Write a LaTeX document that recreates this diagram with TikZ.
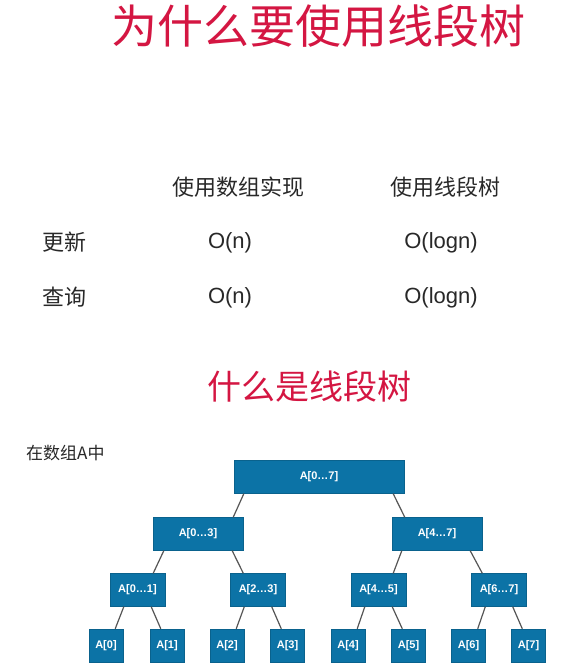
\documentclass[tikz,border=0pt]{standalone}
\usepackage{fontspec}
\setmainfont{Liberation Sans}
\newfontfamily\cjk{Noto Sans CJK SC}
\definecolor{titlered}{RGB}{212,22,66}
\definecolor{segblue}{RGB}{12,115,166}
\definecolor{textgray}{RGB}{40,40,40}
\definecolor{linegray}{RGB}{85,85,85}

\begin{document}
\begin{tikzpicture}[
    x=1pt, y=-1pt,
    title/.style={text=titlered, font=\cjk\fontsize{46}{46}\selectfont, inner sep=0pt},
    subtitle/.style={text=titlered, font=\cjk\fontsize{34}{34}\selectfont, inner sep=0pt},
    head/.style={text=textgray, font=\cjk\fontsize{22}{22}\selectfont, inner sep=0pt},
    cell/.style={text=textgray, font=\fontsize{22}{22}\selectfont, inner sep=0pt},
    seg/.style={rectangle, draw=segblue!85!black, fill=segblue, text=white, font=\bfseries\fontsize{11}{11}\selectfont, minimum height=33pt, inner sep=0pt},
    line/.style={draw, linegray, line width=1.2pt}
]
\fill[white] (0,0) rectangle (566,671);
\useasboundingbox (0,0) rectangle (566,671);

\node [title] (why) at (318,26) {为什么要使用线段树};

\node [head] (harr) at (238,187) {使用数组实现};
\node [head] (hseg) at (445,187) {使用线段树};
\node [head] (upd) at (64,242) {更新};
\node [head] (qry) at (64,297) {查询};
\node [cell] (updarr) at (230,243) {O(n)};
\node [cell] (updseg) at (441,243) {O(logn)};
\node [cell] (qryarr) at (230,298) {O(n)};
\node [cell] (qryseg) at (441,298) {O(logn)};

\node [subtitle] (what) at (309,387) {什么是线段树};
\node [text=textgray, font=\cjk\fontsize{17}{17}\selectfont, inner sep=0pt, anchor=west] (inarr) at (26,453) {在数组A中};

\node [seg, minimum width=170pt] (root) at (319,477) {A[0…7]};
\node [seg, minimum width=90pt] (a03) at (198,534) {A[0…3]};
\node [seg, minimum width=90pt] (a47) at (437,534) {A[4…7]};
\node [seg, minimum width=55pt] (a01) at (137.5,590) {A[0…1]};
\node [seg, minimum width=55pt] (a23) at (258,590) {A[2…3]};
\node [seg, minimum width=55pt] (a45) at (378.5,590) {A[4…5]};
\node [seg, minimum width=55pt] (a67) at (499,590) {A[6…7]};
\node [seg, minimum width=34pt] (a0) at (106,645.5) {A[0]};
\node [seg, minimum width=34pt] (a1) at (167,645.5) {A[1]};
\node [seg, minimum width=34pt] (a2) at (227,645.5) {A[2]};
\node [seg, minimum width=34pt] (a3) at (287.5,645.5) {A[3]};
\node [seg, minimum width=34pt] (a4) at (348,645.5) {A[4]};
\node [seg, minimum width=34pt] (a5) at (408.5,645.5) {A[5]};
\node [seg, minimum width=34pt] (a6) at (468.5,645.5) {A[6]};
\node [seg, minimum width=34pt] (a7) at (528.5,645.5) {A[7]};

\path [line] ([xshift=10pt]root.south west) -- ([xshift=-10pt]a03.north east);
\path [line] ([xshift=-11pt]root.south east) -- ([xshift=13pt]a47.north west);
\path [line] ([xshift=11pt]a03.south west) -- ([xshift=-12pt]a01.north east);
\path [line] ([xshift=-11pt]a03.south east) -- ([xshift=13pt]a23.north west);
\path [line] ([xshift=10pt]a47.south west) -- ([xshift=-13pt]a45.north east);
\path [line] ([xshift=-12pt]a47.south east) -- ([xshift=11pt]a67.north west);
\path [line] ([xshift=14pt]a01.south west) -- ([xshift=-8pt]a0.north east);
\path [line] ([xshift=-14pt]a01.south east) -- ([xshift=11pt]a1.north west);
\path [line] ([xshift=14pt]a23.south west) -- ([xshift=-8pt]a2.north east);
\path [line] ([xshift=-14pt]a23.south east) -- ([xshift=11pt]a3.north west);
\path [line] ([xshift=14pt]a45.south west) -- ([xshift=-8pt]a4.north east);
\path [line] ([xshift=-14pt]a45.south east) -- ([xshift=11pt]a5.north west);
\path [line] ([xshift=14pt]a67.south west) -- ([xshift=-8pt]a6.north east);
\path [line] ([xshift=-14pt]a67.south east) -- ([xshift=11pt]a7.north west);

\end{tikzpicture}
\end{document}
